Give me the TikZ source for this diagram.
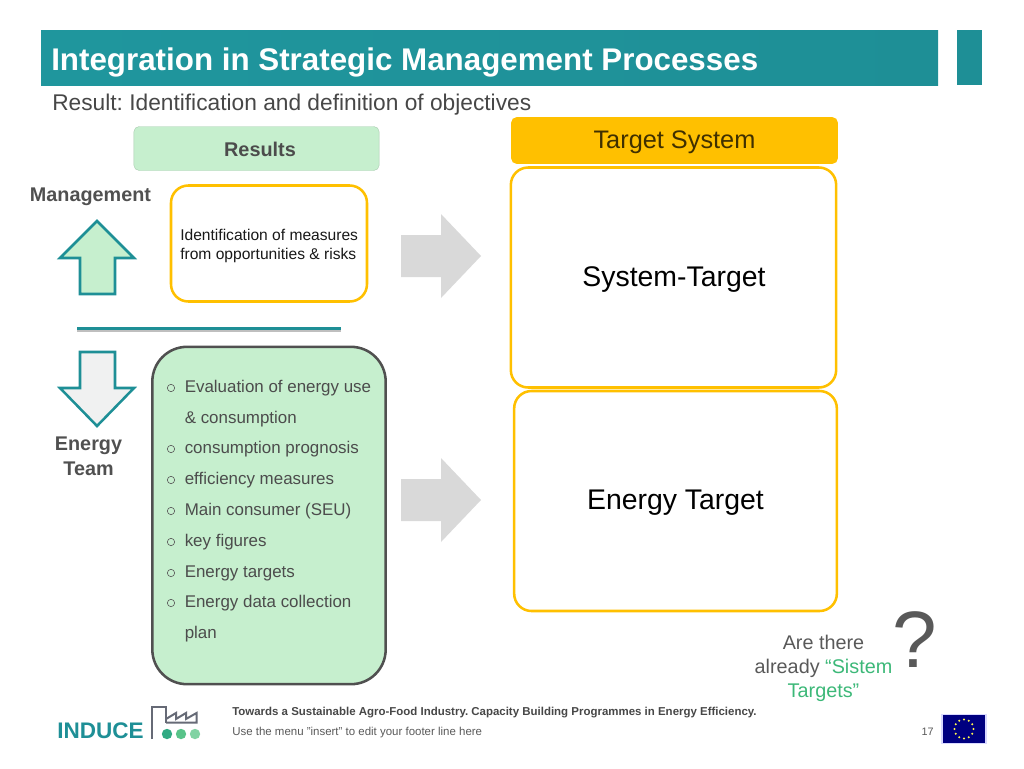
\documentclass[tikz,border=0pt]{standalone}
\usepackage{fontspec}
\setmainfont{Liberation Sans}
\usetikzlibrary{positioning,calc}
\definecolor{teal1}{HTML}{1E8F96}
\definecolor{gold1}{HTML}{FFC000}
\definecolor{green1}{HTML}{C6EFCE}
\definecolor{text1}{HTML}{595959}
\definecolor{sistem1}{HTML}{3CB878}
\definecolor{factory1}{HTML}{666A76}
\frenchspacing
\tikzset{
  goldbox/.style={draw=gold1, line width=1.9pt, rounded corners=13pt, fill=white},
  listitem/.style={anchor=base west, inner sep=0pt, font=\fontsize{12.7}{14}\selectfont, text=text1!85!black},
  listmark/.style={circle, draw=text1, line width=0.45pt, minimum width=5.5pt, inner sep=0pt},
  blockarrow/.style={draw=teal1, line width=1.9pt, miter limit=10},
  grayarrow/.style={fill=black!15},
}
\begin{document}
\begin{tikzpicture}[x=0.75pt,y=-0.75pt]
\useasboundingbox (0,0) rectangle (1024,768);
% title bar
\fill[left color=teal1!105!black, right color=teal1] (41,30) rectangle (938,85);
\fill[teal1] (957,30) rectangle (982,85);
\node[anchor=base west, inner sep=0pt, text=white, font=\bfseries\fontsize{23.5}{28}\selectfont] (title) at (51,70) {Integration in Strategic Management Processes};
\node[anchor=base west, inner sep=0pt, text=text1!80!black, font=\fontsize{17.05}{18}\selectfont] (subtitle) at (52,110) {Result: Identification and definition of objectives};
% headers
\node[fill=green1, draw=green1!85!black, line width=0.3pt, rounded corners=4pt, minimum width=184pt, minimum height=33pt] (results) at (256.5,148.5) {};
\node[inner sep=0pt, font=\bfseries\fontsize{14.9}{16}\selectfont, text=text1!85!black] at (260,149) {Results};
\node[fill=gold1, rounded corners=4pt, minimum width=245pt, minimum height=35pt] (targetsystem) at (674.5,140.5) {};
\node[inner sep=0pt, font=\fontsize{19}{22}\selectfont, text=black!75!gold1] at ($(targetsystem)+(0,2)$) {Target System};
% left labels
\node[font=\bfseries\fontsize{14.85}{17}\selectfont, text=text1!90!black, inner sep=0pt] (mgmt) at (90.5,197) {Management};
\node[font=\bfseries\fontsize{14.85}{19}\selectfont, text=text1!90!black, inner sep=0pt, align=center] (team) at (88.5,456.5) {Energy\\Team};
% block arrows
\draw[blockarrow, fill=green1] (97,221) -- (134,258) -- (115,258) -- (115,294) -- (80,294) -- (80,258) -- (60,258) -- cycle;
\draw[blockarrow, fill=teal1!10!black!6!white] (80,352) -- (115,352) -- (115,388) -- (134,388) -- (97,426) -- (60,388) -- (80,388) -- cycle;
% divider
\coordinate (divl) at (77,328.5);
\coordinate (divr) at (341,328.5);
\draw[black!25, line width=2.4pt] ([yshift=-1.4pt]divl) -- ([yshift=-1.4pt]divr);
\draw[teal1, line width=2.4pt] (divl) -- (divr);
% boxes
\node[goldbox, minimum width=147pt, minimum height=87pt] (ident) at (269,243.5) {};
\node[anchor=north west, inner sep=0pt, align=left, font=\fontsize{11.7}{14.2}\selectfont, text=black!90] (identtext) at (180,229) {Identification of measures\\from opportunities \& risks};
\node[goldbox, minimum width=244pt, minimum height=165pt] (systarget) at (673.5,277.5) {};
\node[font=\fontsize{21.3}{24}\selectfont, inner sep=0pt] (systext) at (674,280) {System-Target};
\node[goldbox, minimum width=242pt, minimum height=165pt] (entarget) at (675.5,501) {};
\node[font=\fontsize{21.3}{24}\selectfont, inner sep=0pt] (entext) at (675.5,503) {Energy Target};
\node[draw=text1!90!black, fill=green1, line width=1.9pt, rounded corners=26pt, minimum width=175pt, minimum height=253pt] (listbox) at (269,515.5) {};
% list
\foreach \y/\txt in {392/Evaluation of energy use, 453/consumption prognosis, 484/efficiency measures, 515/Main consumer (SEU), 546/key figures, 577/Energy targets, 607/Energy data collection}
{
  \node[listitem] at (184.5,\y) {\txt};
  \node[listmark] at (171,\y-4) {};
}
\node[listitem] (cont1) at (184.5,423) {\& consumption};
\node[listitem] (cont2) at (184.5,638) {plan};
% gray arrows
\fill[grayarrow] (401,235) -- (441,235) -- (441,214) -- (481,256) -- (441,298) -- (441,277) -- (401,277) -- cycle;
\fill[grayarrow] (401,479) -- (441,479) -- (441,458) -- (481,500) -- (441,542) -- (441,521) -- (401,521) -- cycle;
% question
\node[inner sep=0pt, align=center, font=\fontsize{14.85}{18}\selectfont, text=text1] (question) at (823.5,668) {Are there\\already {\color{sistem1}“Sistem}\\{\color{sistem1}Targets”}};
\node[inner sep=0pt, font=\fontsize{60}{60}\selectfont, text=text1] (qmark) at (914.5,640) {?};
% footer
\node[anchor=base west, inner sep=0pt, font=\bfseries\fontsize{8.6}{10}\selectfont, text=text1!80!black] (foot1) at (232,715) {Towards a Sustainable Agro-Food Industry. Capacity Building Programmes in Energy Efficiency.};
\node[anchor=base west, inner sep=0pt, font=\fontsize{8.6}{10}\selectfont, text=text1] (foot2) at (232,735) {Use the menu "insert" to edit your footer line here};
\node[anchor=base east, inner sep=0pt, font=\fontsize{8.1}{10}\selectfont, text=text1] (page) at (934,735) {17};
% logo
\node[anchor=base west, inner sep=0pt, font=\bfseries\fontsize{16.9}{20}\selectfont, text=teal1] (induce) at (57,738.5) {INDUCE};
\draw[factory1, line width=2pt, line join=miter] (152,739) -- (152,707) -- (166,707) -- (166,723);
\draw[factory1, line width=1.5pt, line join=miter] (166,722.5) -- (196.5,722.5) -- (196.5,713) -- (186,719) -- (186,713) -- (176,719) -- (176,713) -- (166,719);
\fill[teal1!35!sistem1] (167,734) circle (5.2);
\fill[sistem1!80!green1] (181,734) circle (5.2);
\fill[sistem1!50!green1] (195,734) circle (5.2);
% flag
\node[fill=blue!50!black, draw=blue!15!white, line width=0.8pt, minimum width=33pt, minimum height=21.5pt, inner sep=0pt] (flag) at (964,729) {};
\foreach \a in {0,30,...,330}
  \fill[yellow!70!white] ($(flag)+(\a:9.5)$) circle (1.2);
\end{tikzpicture}
\end{document}
